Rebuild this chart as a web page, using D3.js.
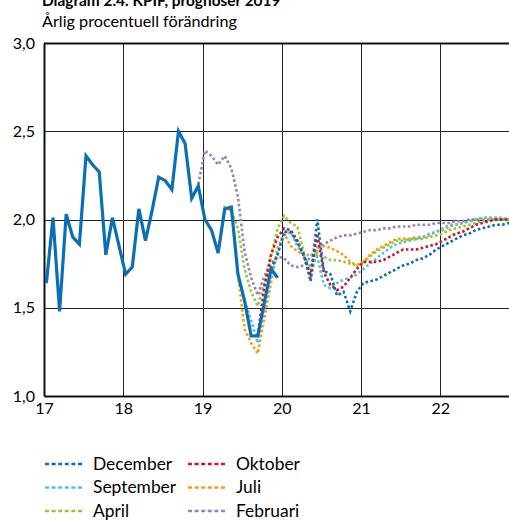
<!DOCTYPE html>
<html>
<head>
<meta charset="utf-8">
<script src="https://cdn.jsdelivr.net/npm/d3@7"></script>
<style>
  html, body { margin: 0; padding: 0; background: #fff; }
  svg { display: block; font-family: Lato, "Open Sans", sans-serif; }
</style>
</head>
<body>
<svg id="chart" width="509" height="520"></svg>
<script>
// ---- data (monthly, month index 0 = Jan 2017) ----
const titleText = "Diagram 2.4. KPIF, prognoser 2019";
const subtitleText = "Årlig procentuell förändring";
const xTickLabels = ["17", "18", "19", "20", "21", "22"];
const yTickValues = [1.0, 1.5, 2.0, 2.5, 3.0];

const outcomeStart = 0;
const outcome = [1.64, 2.01, 1.48, 2.03, 1.90, 1.86, 2.36, 2.31, 2.27, 1.80, 2.01, 1.85,
  1.69, 1.73, 2.06, 1.88, 2.05, 2.24, 2.22, 2.17, 2.50, 2.43, 2.12, 2.19,
  2.00, 1.94, 1.81, 2.06, 2.07, 1.69, 1.54, 1.34, 1.34, 1.53, 1.72, 1.67];

const februariStart = 23;
const februari = [2.20, 2.39, 2.36, 2.31, 2.36, 2.29, 2.13, 1.82, 1.67, 1.57, 1.68, 1.75, 1.79,
  1.78, 1.74, 1.73, 1.74, 1.79, 1.84, 1.86, 1.88, 1.90, 1.91, 1.91, 1.92,
  1.93, 1.94, 1.94, 1.95, 1.95, 1.96, 1.96, 1.96, 1.97, 1.97, 1.97, 1.98,
  1.98, 1.98, 1.99, 1.99, 2.00, 2.00, 2.00, 2.00, 2.00, 2.00, 2.00, 2.00];

const aprilStart = 26;
const april = [1.81, 2.07, 2.05, 1.95, 1.72, 1.59, 1.51, 1.64, 1.79, 1.95,
  2.02, 1.98, 1.96, 1.81, 1.79, 1.81, 1.79, 1.77, 1.77, 1.76, 1.75, 1.74,
  1.76, 1.79, 1.82, 1.84, 1.86, 1.88, 1.88, 1.89, 1.89, 1.89, 1.90, 1.91,
  1.92, 1.94, 1.95, 1.96, 1.97, 1.98, 1.99, 2.00, 2.00, 2.00, 2.00, 2.00];

const juliStart = 29;
const juli = [1.69, 1.38, 1.30, 1.24, 1.44, 1.64, 1.84,
  1.92, 1.85, 1.82, 1.80, 1.66, 1.84, 1.85, 1.84, 1.82, 1.80, 1.76, 1.74,
  1.76, 1.80, 1.83, 1.85, 1.87, 1.89, 1.89, 1.89, 1.90, 1.90, 1.91, 1.93,
  1.94, 1.96, 1.97, 1.98, 1.99, 2.00, 2.01, 2.01, 2.01, 2.00, 2.00, 2.00];

const septemberStart = 30;
const september = [1.54, 1.43, 1.30, 1.50, 1.67, 1.81,
  1.91, 1.93, 1.85, 1.79, 1.73, 1.79, 1.63, 1.61, 1.64, 1.66, 1.67, 1.69,
  1.72, 1.75, 1.78, 1.81, 1.84, 1.86, 1.87, 1.88, 1.89, 1.90, 1.92, 1.93,
  1.95, 1.97, 1.97, 1.98, 1.99, 2.00, 2.01, 2.01, 2.01, 2.01, 2.00, 2.00];

const oktoberStart = 32;
const oktober = [1.34, 1.62, 1.80, 1.90,
  1.95, 1.94, 1.88, 1.79, 1.69, 1.92, 1.70, 1.63, 1.60, 1.62, 1.67, 1.72,
  1.76, 1.76, 1.76, 1.77, 1.79, 1.81, 1.83, 1.83, 1.83, 1.84, 1.85, 1.86,
  1.88, 1.90, 1.92, 1.93, 1.95, 1.97, 1.98, 1.99, 2.00, 2.00, 2.00, 2.00];

const decemberStart = 34;
const december = [1.72, 1.80,
  1.93, 1.93, 1.87, 1.80, 1.65, 2.00, 1.71, 1.69, 1.57, 1.59, 1.48, 1.59,
  1.64, 1.65, 1.66, 1.68, 1.70, 1.72, 1.74, 1.75, 1.77, 1.78, 1.80, 1.83,
  1.85, 1.87, 1.89, 1.91, 1.92, 1.94, 1.95, 1.96, 1.97, 1.97, 1.98, 1.98];

const seriesNames = ["Februari", "April", "Juli", "September", "Oktober", "December"];
const seriesStarts = [februariStart, aprilStart, juliStart, septemberStart, oktoberStart, decemberStart];
const seriesValues = [februari, april, juli, september, oktober, december];
const seriesColors = ["#9b7fc0", "#93c83e", "#f7a00b", "#55c1d8", "#c8172e", "#0a6fb5"];
const outcomeColor = "#0a6fb5";
const legendOrder = ["December", "Oktober", "September", "Juli", "April", "Februari"];

// ---- layout ----
const svg = d3.select("#chart");
const plotLeft = 44, plotTop = 43, plotBottom = 396, plotRight = 519.6;

const x = d3.scaleLinear().domain([0, 72]).range([plotLeft, plotRight]);
const y = d3.scaleLinear().domain([1.0, 3.0]).range([plotBottom, plotTop]);
const monthPos = m => x(m + 0.36);

// titles
svg.append("text").attr("x", 42).attr("y", 6)
  .attr("font-size", 15.4).attr("font-weight", "bold").attr("fill", "#000").text(titleText);
svg.append("text").attr("x", 42).attr("y", 27)
  .attr("font-size", 16.2).attr("fill", "#000").text(subtitleText);

// grid
const g = svg.append("g");
const yearTicks = d3.range(1, 6).map(i => i * 12);
g.selectAll("line.vg").data(yearTicks).join("line")
  .attr("x1", d => Math.round(x(d)) + 0.5).attr("x2", d => Math.round(x(d)) + 0.5)
  .attr("y1", plotTop).attr("y2", plotBottom)
  .attr("stroke", "#222").attr("stroke-width", 1);
g.selectAll("line.hg").data([1.5, 2.0, 2.5]).join("line")
  .attr("x1", plotLeft).attr("x2", 509)
  .attr("y1", d => Math.round(y(d)) + 0.5).attr("y2", d => Math.round(y(d)) + 0.5)
  .attr("stroke", "#222").attr("stroke-width", 1);
// top border
g.append("line").attr("x1", plotLeft).attr("x2", 509)
  .attr("y1", Math.round(y(3.0)) + 0.5).attr("y2", Math.round(y(3.0)) + 0.5)
  .attr("stroke", "#111").attr("stroke-width", 2);

// axes
const yAxis = d3.axisLeft(y).tickValues(yTickValues).tickSize(0).tickPadding(9)
  .tickFormat(d => d3.format(".1f")(d).replace(".", ","));
const yG = svg.append("g").attr("transform", `translate(${plotLeft},0)`).call(yAxis);
yG.select(".domain").attr("stroke", "#111").attr("stroke-width", 2);
yG.selectAll("text").attr("font-size", 16).attr("fill", "#000").attr("font-family", "Lato, sans-serif");

const xAxis = d3.axisBottom(x).tickValues(d3.range(0, 72, 12)).tickSize(0).tickPadding(7)
  .tickFormat((d, i) => xTickLabels[i]);
const xG = svg.append("g").attr("transform", `translate(0,${plotBottom})`).call(xAxis);
xG.select(".domain").attr("stroke", "#111").attr("stroke-width", 2);
xG.selectAll("text").attr("font-size", 16).attr("fill", "#000").attr("font-family", "Lato, sans-serif");

// lines
const line = d3.line().x(d => monthPos(d.m)).y(d => y(d.v));
svg.append("clipPath").attr("id", "clip").append("rect")
  .attr("x", plotLeft).attr("y", 0).attr("width", 509 - plotLeft).attr("height", plotBottom);

seriesNames.forEach((name, i) => {
  const pts = seriesValues[i].map((v, k) => ({ m: seriesStarts[i] + k, v }));
  svg.append("path").datum(pts)
    .attr("clip-path", "url(#clip)")
    .attr("d", line).attr("fill", "none")
    .attr("stroke", seriesColors[i]).attr("stroke-width", 2.6)
    .attr("stroke-dasharray", "2.6,2.4");
});

const outPts = outcome.map((v, k) => ({ m: outcomeStart + k, v }));
svg.append("path").datum(outPts)
  .attr("d", line).attr("fill", "none")
  .attr("stroke", outcomeColor).attr("stroke-width", 3.2)
  .attr("stroke-linejoin", "miter");

// legend
const legend = svg.append("g");
legendOrder.forEach((name, i) => {
  const col = i % 2, row = Math.floor(i / 2);
  const lx = col === 0 ? 45 : 188;
  const ly = 464 + row * 23.5;
  const color = seriesColors[seriesNames.indexOf(name)];
  legend.append("line").attr("x1", lx).attr("x2", lx + 38)
    .attr("y1", ly).attr("y2", ly)
    .attr("stroke", color).attr("stroke-width", 2.6).attr("stroke-dasharray", "4,2.6");
  legend.append("text").attr("x", lx + 48).attr("y", ly + 5.5)
    .attr("font-size", 17.4).attr("fill", "#000").text(name);
});
</script>
</body>
</html>
